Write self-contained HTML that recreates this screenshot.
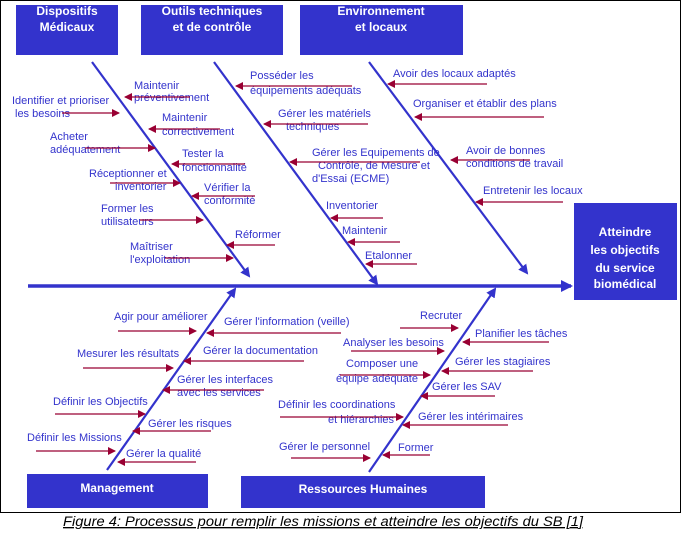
<!DOCTYPE html>
<html><head><meta charset="utf-8"><style>
html,body{margin:0;padding:0;background:#fff;width:682px;height:555px;overflow:hidden}
svg{display:block}
.t{font-family:"Liberation Sans",Arial,sans-serif;font-size:11px;fill:#3333cc}
.b{font-family:"Liberation Sans",Arial,sans-serif;font-size:12px;font-weight:bold;fill:#fff}
.a{stroke:#990033;stroke-width:1.3;fill:none}
.s{stroke:#3333cc;stroke-width:2.2;fill:none}
</style></head><body>
<svg width="682" height="555" viewBox="0 0 682 555" xmlns="http://www.w3.org/2000/svg">
<defs>
<marker id="m" markerWidth="8" markerHeight="8" refX="7" refY="4" orient="auto" markerUnits="userSpaceOnUse"><path d="M0,0 L8,4 L0,8 z" fill="#990033"/></marker>
<marker id="mb" markerWidth="10" markerHeight="10" refX="8" refY="5" orient="auto" markerUnits="userSpaceOnUse"><path d="M0,0 L10,5 L0,10 z" fill="#3333cc"/></marker>
<marker id="mh" markerWidth="12" markerHeight="12" refX="10" refY="6" orient="auto" markerUnits="userSpaceOnUse"><path d="M0,0 L12,6 L0,12 z" fill="#3333cc"/></marker>
</defs>
<rect x="0.5" y="0.5" width="680" height="512" fill="none" stroke="#000" stroke-width="1"/>
<rect x="16" y="5" width="102" height="50" fill="#3333cc"/>
<text class="b" x="67" y="15" text-anchor="middle">Dispositifs</text>
<text class="b" x="67" y="31" text-anchor="middle">Médicaux</text>
<rect x="141" y="5" width="142" height="50" fill="#3333cc"/>
<text class="b" x="212" y="15" text-anchor="middle">Outils techniques</text>
<text class="b" x="212" y="31" text-anchor="middle">et de contrôle</text>
<rect x="300" y="5" width="163" height="50" fill="#3333cc"/>
<text class="b" x="381" y="15" text-anchor="middle">Environnement</text>
<text class="b" x="381" y="31" text-anchor="middle">et locaux</text>
<rect x="574" y="203" width="103" height="97" fill="#3333cc"/>
<text class="b" x="625" y="236" text-anchor="middle">Atteindre</text>
<text class="b" x="625" y="254" text-anchor="middle">les objectifs</text>
<text class="b" x="625" y="272" text-anchor="middle">du service</text>
<text class="b" x="625" y="288" text-anchor="middle">biomédical</text>
<rect x="27" y="474" width="181" height="34" fill="#3333cc"/>
<text class="b" x="117" y="492" text-anchor="middle">Management</text>
<rect x="241" y="476" width="244" height="32" fill="#3333cc"/>
<text class="b" x="363" y="493" text-anchor="middle">Ressources Humaines</text>
<line x1="28" y1="286" x2="571" y2="286" stroke="#3333cc" stroke-width="3.5" marker-end="url(#mh)"/>
<line class="s" x1="92" y1="62" x2="249" y2="276" marker-end="url(#mb)"/>
<line class="s" x1="214" y1="62" x2="377" y2="284" marker-end="url(#mb)"/>
<line class="s" x1="369" y1="62" x2="527" y2="273" marker-end="url(#mb)"/>
<line class="s" x1="107" y1="470" x2="235" y2="289" marker-end="url(#mb)"/>
<line class="s" x1="369" y1="472" x2="495" y2="289" marker-end="url(#mb)"/>
<g class="t">
<text x="134" y="89">Maintenir</text><text x="134" y="101">préventivement</text>
<text x="12" y="104">Identifier et prioriser</text><text x="15" y="117">les besoins</text>
<text x="162" y="121">Maintenir</text><text x="162" y="135">correctivement</text>
<text x="50" y="140">Acheter</text><text x="50" y="153">adéquatement</text>
<text x="182" y="157">Tester la</text><text x="182" y="171">fonctionnalité</text>
<text x="89" y="177">Réceptionner et</text><text x="115" y="190">inventorier</text>
<text x="204" y="191">Vérifier la</text><text x="204" y="204">conformité</text>
<text x="101" y="212">Former les</text><text x="101" y="225">utilisateurs</text>
<text x="235" y="238">Réformer</text>
<text x="130" y="250">Maîtriser</text><text x="130" y="263">l'exploitation</text>
</g>
<g class="a" marker-end="url(#m)">
<line x1="190" y1="97" x2="125" y2="97"/>
<line x1="62" y1="113" x2="119" y2="113"/>
<line x1="220" y1="129" x2="149" y2="129"/>
<line x1="85" y1="148" x2="155" y2="148"/>
<line x1="245" y1="164" x2="172" y2="164"/>
<line x1="110" y1="183" x2="180" y2="183"/>
<line x1="255" y1="196" x2="192" y2="196"/>
<line x1="140" y1="220" x2="203" y2="220"/>
<line x1="275" y1="245" x2="227" y2="245"/>
<line x1="165" y1="258" x2="233" y2="258"/>
</g>
<g class="t">
<text x="250" y="79">Posséder les</text><text x="250" y="94">équipements adéquats</text>
<text x="278" y="117">Gérer les matériels</text><text x="286" y="130">techniques</text>
<text x="312" y="156">Gérer les Equipements de</text><text x="318" y="169">Contrôle, de Mesure et</text><text x="312" y="182">d'Essai (ECME)</text>
<text x="326" y="209">Inventorier</text>
<text x="342" y="234">Maintenir</text>
<text x="365" y="259">Etalonner</text>
</g>
<g class="a" marker-end="url(#m)">
<line x1="352" y1="86" x2="236" y2="86"/>
<line x1="368" y1="124" x2="264" y2="124"/>
<line x1="420" y1="162" x2="290" y2="162"/>
<line x1="383" y1="218" x2="331" y2="218"/>
<line x1="400" y1="242" x2="348" y2="242"/>
<line x1="417" y1="264" x2="366" y2="264"/>
</g>
<g class="t">
<text x="393" y="77">Avoir des locaux adaptés</text>
<text x="413" y="107">Organiser et établir des plans</text>
<text x="466" y="154">Avoir de bonnes</text><text x="466" y="167">conditions de travail</text>
<text x="483" y="194">Entretenir les locaux</text>
</g>
<g class="a" marker-end="url(#m)">
<line x1="487" y1="84" x2="388" y2="84"/>
<line x1="544" y1="117" x2="415" y2="117"/>
<line x1="530" y1="160" x2="451" y2="160"/>
<line x1="563" y1="202" x2="476" y2="202"/>
</g>
<g class="t">
<text x="114" y="320">Agir pour améliorer</text>
<text x="224" y="325">Gérer l'information (veille)</text>
<text x="77" y="357">Mesurer les résultats</text>
<text x="203" y="354">Gérer la documentation</text>
<text x="177" y="383">Gérer les interfaces</text><text x="177" y="396">avec les services</text>
<text x="53" y="405">Définir les Objectifs</text>
<text x="148" y="427">Gérer les risques</text>
<text x="27" y="441">Définir les Missions</text>
<text x="126" y="457">Gérer la qualité</text>
</g>
<g class="a" marker-end="url(#m)">
<line x1="118" y1="331" x2="196" y2="331"/>
<line x1="341" y1="333" x2="207" y2="333"/>
<line x1="83" y1="368" x2="173" y2="368"/>
<line x1="304" y1="361" x2="184" y2="361"/>
<line x1="264" y1="390" x2="163" y2="390"/>
<line x1="55" y1="414" x2="145" y2="414"/>
<line x1="211" y1="431" x2="133" y2="431"/>
<line x1="36" y1="451" x2="115" y2="451"/>
<line x1="196" y1="462" x2="118" y2="462"/>
</g>
<g class="t">
<text x="420" y="319">Recruter</text>
<text x="475" y="337">Planifier les tâches</text>
<text x="343" y="346">Analyser les besoins</text>
<text x="346" y="367">Composer une</text><text x="336" y="382">équipe adéquate</text>
<text x="455" y="365">Gérer les stagiaires</text>
<text x="432" y="390">Gérer les SAV</text>
<text x="278" y="408">Définir les coordinations</text><text x="328" y="423">et hiérarchies</text>
<text x="418" y="420">Gérer les intérimaires</text>
<text x="279" y="450">Gérer le personnel</text>
<text x="398" y="451">Former</text>
</g>
<g class="a" marker-end="url(#m)">
<line x1="400" y1="328" x2="458" y2="328"/>
<line x1="549" y1="342" x2="463" y2="342"/>
<line x1="351" y1="351" x2="444" y2="351"/>
<line x1="340" y1="375" x2="430" y2="375"/>
<line x1="533" y1="371" x2="442" y2="371"/>
<line x1="495" y1="396" x2="421" y2="396"/>
<line x1="280" y1="417" x2="403" y2="417"/>
<line x1="508" y1="425" x2="403" y2="425"/>
<line x1="291" y1="458" x2="370" y2="458"/>
<line x1="430" y1="455" x2="383" y2="455"/>
</g>
<text x="63" y="526" font-family="'Liberation Sans',Arial,sans-serif" font-size="13.5" font-style="italic" text-decoration="underline" fill="#000" textLength="520" lengthAdjust="spacingAndGlyphs">Figure 4: Processus pour remplir les missions et atteindre les objectifs du SB [1]</text>
</svg>
</body></html>
